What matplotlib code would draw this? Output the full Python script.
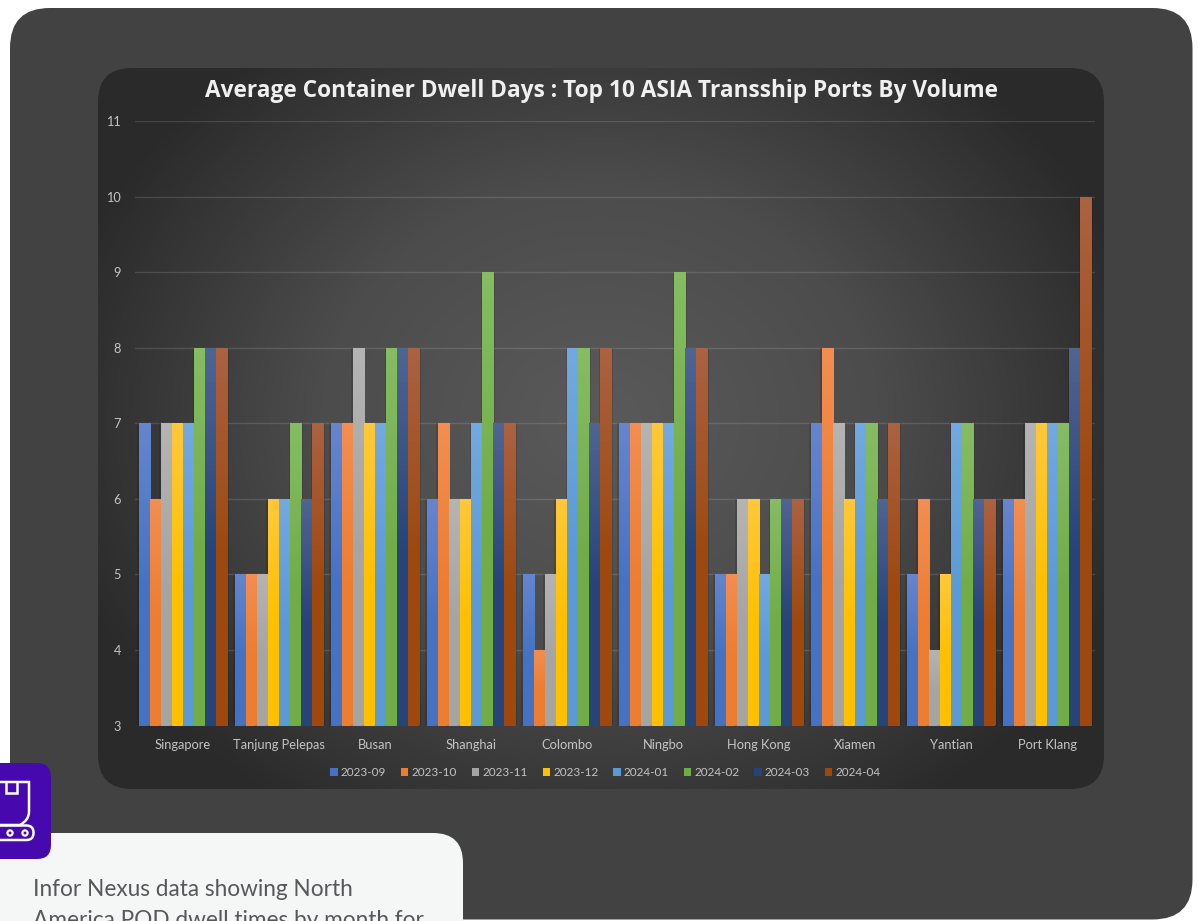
import numpy as np
import matplotlib
matplotlib.use("Agg")
import matplotlib.pyplot as plt
from matplotlib.patches import FancyBboxPatch, Rectangle, Circle
from matplotlib.colors import LinearSegmentedColormap
from matplotlib.path import Path
from matplotlib.patches import PathPatch
import matplotlib.patheffects as pe

ports = ["Singapore", "Tanjung Pelepas", "Busan", "Shanghai", "Colombo",
         "Ningbo", "Hong Kong", "Xiamen", "Yantian", "Port Klang"]
months = ["2023-09", "2023-10", "2023-11", "2023-12",
          "2024-01", "2024-02", "2024-03", "2024-04"]
m2023_09 = [7, 5, 7, 6, 5, 7, 5, 7, 5, 6]
m2023_10 = [6, 5, 7, 7, 4, 7, 5, 8, 6, 6]
m2023_11 = [7, 5, 8, 6, 5, 7, 6, 7, 4, 7]
m2023_12 = [7, 6, 7, 6, 6, 7, 6, 6, 5, 7]
m2024_01 = [7, 6, 7, 7, 8, 7, 5, 7, 7, 7]
m2024_02 = [8, 7, 8, 9, 8, 9, 6, 7, 7, 7]
m2024_03 = [8, 6, 8, 7, 7, 8, 6, 6, 6, 8]
m2024_04 = [8, 7, 8, 7, 8, 8, 6, 7, 6, 10]
series = [m2023_09, m2023_10, m2023_11, m2023_12,
          m2024_01, m2024_02, m2024_03, m2024_04]
base_colors = ["#4472C4", "#ED7D31", "#A5A5A5", "#FFC000",
               "#5B9BD5", "#70AD47", "#264478", "#9E480E"]
top_colors = ["#6585D0", "#F28E52", "#B4B4B4", "#FFC83A",
              "#72A9E0", "#86BC63", "#4F6492", "#AB6240"]
y_ticks = list(range(3, 12))

W, H = 1198, 921
fig = plt.figure(figsize=(W / 100, H / 100), dpi=100, facecolor="white")

# page layer in pixel coordinates
bg = fig.add_axes([0, 0, 1, 1], zorder=0)
bg.set_axis_off()

def rbox(x0, y0, x1, y1, r, **kw):
    p = FancyBboxPatch((x0, y0), x1 - x0, y1 - y0,
                       boxstyle=f"round,pad=0,rounding_size={r}", **kw)
    bg.add_patch(p)
    return p

rbox(10, 8, 1192.5, 919.5, 40, fc="#424242", ec="none", zorder=1)

# chart panel with radial glow
px0, py0, px1, py1 = 98, 68, 1104, 789
gx, gy = np.meshgrid(np.linspace(px0, px1, 503), np.linspace(py0, py1, 361))
t = np.sqrt(((gx - 600) / 560) ** 2 + ((gy - 420) / 470) ** 2)
t = np.clip(t, 0, 1)
cm_panel = LinearSegmentedColormap.from_list("p", ["#5a5a5a", "#4c4c4c", "#2a2a2a"])
im = bg.imshow(t, cmap=cm_panel, vmin=0, vmax=1, extent=(px0, px1, py1, py0),
               aspect="auto", zorder=2)
clip = rbox(px0, py0, px1, py1, 34, fc="none", ec="none", zorder=2)
im.set_clip_path(clip)

# card and icon
rbox(-40, 833, 463, 1000, 30, fc="#f5f7f7", ec="none", zorder=3)
rbox(-40, 763, 51, 859, 14, fc="#4509ae", ec="none", zorder=4)
box = Path([(-5, 782), (29, 782), (29, 812), (29, 820), (20, 825), (-5, 825)],
           [Path.MOVETO, Path.LINETO, Path.LINETO, Path.CURVE3, Path.CURVE3, Path.LINETO])
bg.add_patch(PathPatch(box, fc="none", ec="white", lw=1.8, zorder=5))
flap = Path([(5.5, 782), (5.5, 793), (17, 793), (17, 782)])
bg.add_patch(PathPatch(flap, fc="none", ec="white", lw=1.8, zorder=5))
rbox(-15, 825.5, 33.5, 840, 7, fc="none", ec="white", lw=1.8, zorder=5)
for cx in (10, 25):
    bg.add_patch(Circle((cx, 833), 2.6, fc="none", ec="white", lw=1.6, zorder=5))

for line, yy in (("Infor Nexus data showing North", 889.5),
                 ("America POD dwell times by month for", 920)):
    bg.text(33, yy, line, fontsize=16.3, family="Lato", color="#55595a",
            va="center", ha="left", zorder=5)

bg.set_xlim(0, W)
bg.set_ylim(H, 0)

# chart
AX_L, AX_R, AX_T, AX_B = 135, 1095, 121, 725.5
ax = fig.add_axes([AX_L / W, 1 - AX_B / H, (AX_R - AX_L) / W, (AX_B - AX_T) / H], zorder=2)
ax.patch.set_alpha(0)
for s in ax.spines.values():
    s.set_visible(False)

x = np.arange(len(ports))
n = len(series)
gap = 7 / 96
bw = (1 - gap) / n
grad = np.linspace(0, 1, 64).reshape(-1, 1)
shadow = [pe.SimplePatchShadow(offset=(1.0, 0), shadow_rgbFace="black", alpha=0.12),
          pe.SimplePatchShadow(offset=(-1.0, 0), shadow_rgbFace="black", alpha=0.12),
          pe.Normal()]
handles = []
for i, (vals, label) in enumerate(zip(series, months)):
    offs = x - 0.5 + gap / 2 + (i + 0.5) * bw
    bars = ax.bar(offs, vals, width=bw, color=base_colors[i], label=label,
                  linewidth=0, zorder=2)
    cmap = LinearSegmentedColormap.from_list(
        f"s{i}", [(0, top_colors[i]), (0.55, base_colors[i]), (1, base_colors[i])])
    for b in bars:
        b.set_path_effects(shadow)
        img = ax.imshow(grad, cmap=cmap, vmin=0, vmax=1, aspect="auto", zorder=3,
                        extent=(b.get_x(), b.get_x() + b.get_width(), 3, b.get_height()),
                        origin="upper")
        img.set_clip_path(b)
    handles.append(Rectangle((0, 0), 1, 1, fc=base_colors[i], ec="none"))

ax.set_xlim(-0.5, len(ports) - 0.5)
ax.set_ylim(3, 11)
ax.set_yticks(y_ticks)
ax.set_xticks(x)
ax.set_xticklabels(ports)
ax.grid(axis="y", color="white", alpha=0.13, lw=1.0, zorder=1)
ax.set_axisbelow(True)
ax.tick_params(axis="both", length=0, labelcolor="#c4c4c4", labelsize=9.3)
ax.tick_params(axis="x", pad=9.5)
ax.tick_params(axis="y", pad=10, labelsize=9.2)
for lab in ax.get_xticklabels() + ax.get_yticklabels():
    lab.set_family("Lato")

ax.set_title("Average Container Dwell Days : Top 10 ASIA Transship Ports By Volume",
             x=(601.5 - AX_L) / (AX_R - AX_L), y=(AX_B - 96.5) / (AX_B - AX_T), pad=0,
             fontsize=16.3, fontweight="bold", family="Open Sans", color="#f0f0f0")

leg = ax.legend(handles, months, loc="center", ncols=8, frameon=False,
                bbox_to_anchor=((605.5 - AX_L) / (AX_R - AX_L), (AX_B - 772.5) / (AX_B - AX_T)),
                handlelength=0.62, handleheight=0.62, handletextpad=0.26,
                columnspacing=1.27, borderpad=0,
                prop={"family": "Lato", "size": 8.5}, labelcolor="#c4c4c4")

fig.savefig("out.png", dpi=100, facecolor="white")
